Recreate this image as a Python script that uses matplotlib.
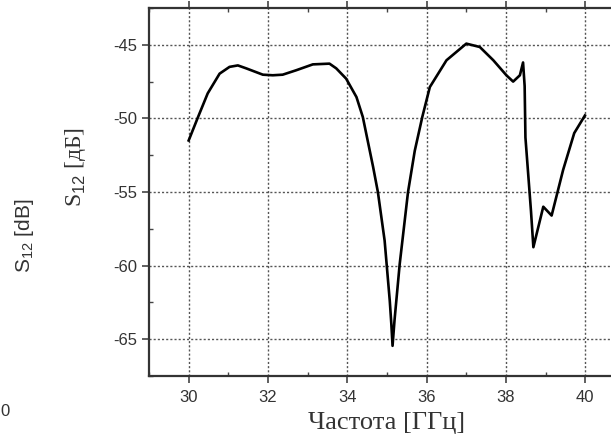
import matplotlib
matplotlib.use("Agg")
import matplotlib.pyplot as plt
from matplotlib.ticker import MultipleLocator

plt.rcParams["axes.unicode_minus"] = False
plt.rcParams["font.family"] = ["Liberation Sans", "DejaVu Sans"]
plt.rcParams["mathtext.fontset"] = "custom"
plt.rcParams["mathtext.rm"] = "Liberation Sans"

# частота, ГГц
freq = [30.0, 30.23, 30.48, 30.78, 31.03, 31.24, 31.45, 31.87, 32.12, 32.37,
        32.71, 33.13, 33.55, 33.72, 33.97, 34.23, 34.39, 34.65, 34.77, 34.94,
        35.07, 35.11, 35.14, 35.19, 35.32, 35.53, 35.7, 35.89, 36.08, 36.5,
        37.0, 37.34, 37.68, 38.01, 38.18, 38.35, 38.43, 38.47, 38.49, 38.56,
        38.63, 38.69, 38.94, 39.15, 39.44, 39.72, 39.99]
# S12, дБ
s12 = [-51.5, -49.95, -48.3, -46.96, -46.5, -46.4, -46.6, -47.03, -47.07, -47.03,
       -46.73, -46.33, -46.28, -46.6, -47.3, -48.55, -49.9, -53.3, -55.0, -58.3,
       -62.4, -64.0, -65.45, -63.7, -59.9, -55.0, -52.2, -49.9, -47.87, -46.05,
       -44.92, -45.15, -46.05, -47.07, -47.5, -47.07, -46.2, -47.8, -51.3, -53.8,
       -56.3, -58.75, -56.0, -56.6, -53.5, -51.0, -49.8]

xticks = [30, 32, 34, 36, 38, 40]
yticks = [-45, -50, -55, -60, -65]

fig = plt.figure(figsize=(6.11, 4.47), dpi=100)
ax = fig.add_axes([149 / 611, 1 - 376 / 447, 476 / 611, 368 / 447])

ax.plot(freq, s12, color="black", linewidth=1.9, solid_joinstyle="round")

ax.set_xlim(29, 41)
ax.set_ylim(-67.5, -42.5)
ax.set_xticks(xticks)
ax.set_yticks(yticks)
ax.xaxis.set_minor_locator(MultipleLocator(1))
ax.yaxis.set_minor_locator(MultipleLocator(2.5))
ax.grid(True, which="major", linestyle=(0, (1.5, 1.5)), color="#555555", linewidth=1.0)

ax.tick_params(which="major", direction="out", length=5, width=1.2, colors="#444444",
               labelsize=12, labelcolor="#333333")
ax.tick_params(axis="x", which="major", pad=5)
ax.tick_params(which="minor", direction="in", length=3, width=1, colors="#444444")
ax.tick_params(which="both", top=True)
for sp in ax.spines.values():
    sp.set_linewidth(1.6)
    sp.set_color("#333333")

ax.set_xlabel("Частота [ГГц]", family="Liberation Serif", fontsize=19, color="#333333",
              labelpad=5)
fig.text(75 / 611, 1 - 167 / 447, "S$_{12}$ [дБ]", rotation=90, ha="center", va="center",
         family=["Liberation Serif", "DejaVu Sans"], fontsize=17, color="#333333")
fig.text(25 / 611, 1 - 236 / 447, "S$_{12}$ [dB]", rotation=90, ha="center", va="center",
         family="Liberation Sans", fontsize=15, color="#333333")
fig.text(0, 1 - 411 / 447, "0", ha="left", va="center",
         family="Liberation Sans", fontsize=12, color="#333333")

fig.savefig("out.png", dpi=100)
